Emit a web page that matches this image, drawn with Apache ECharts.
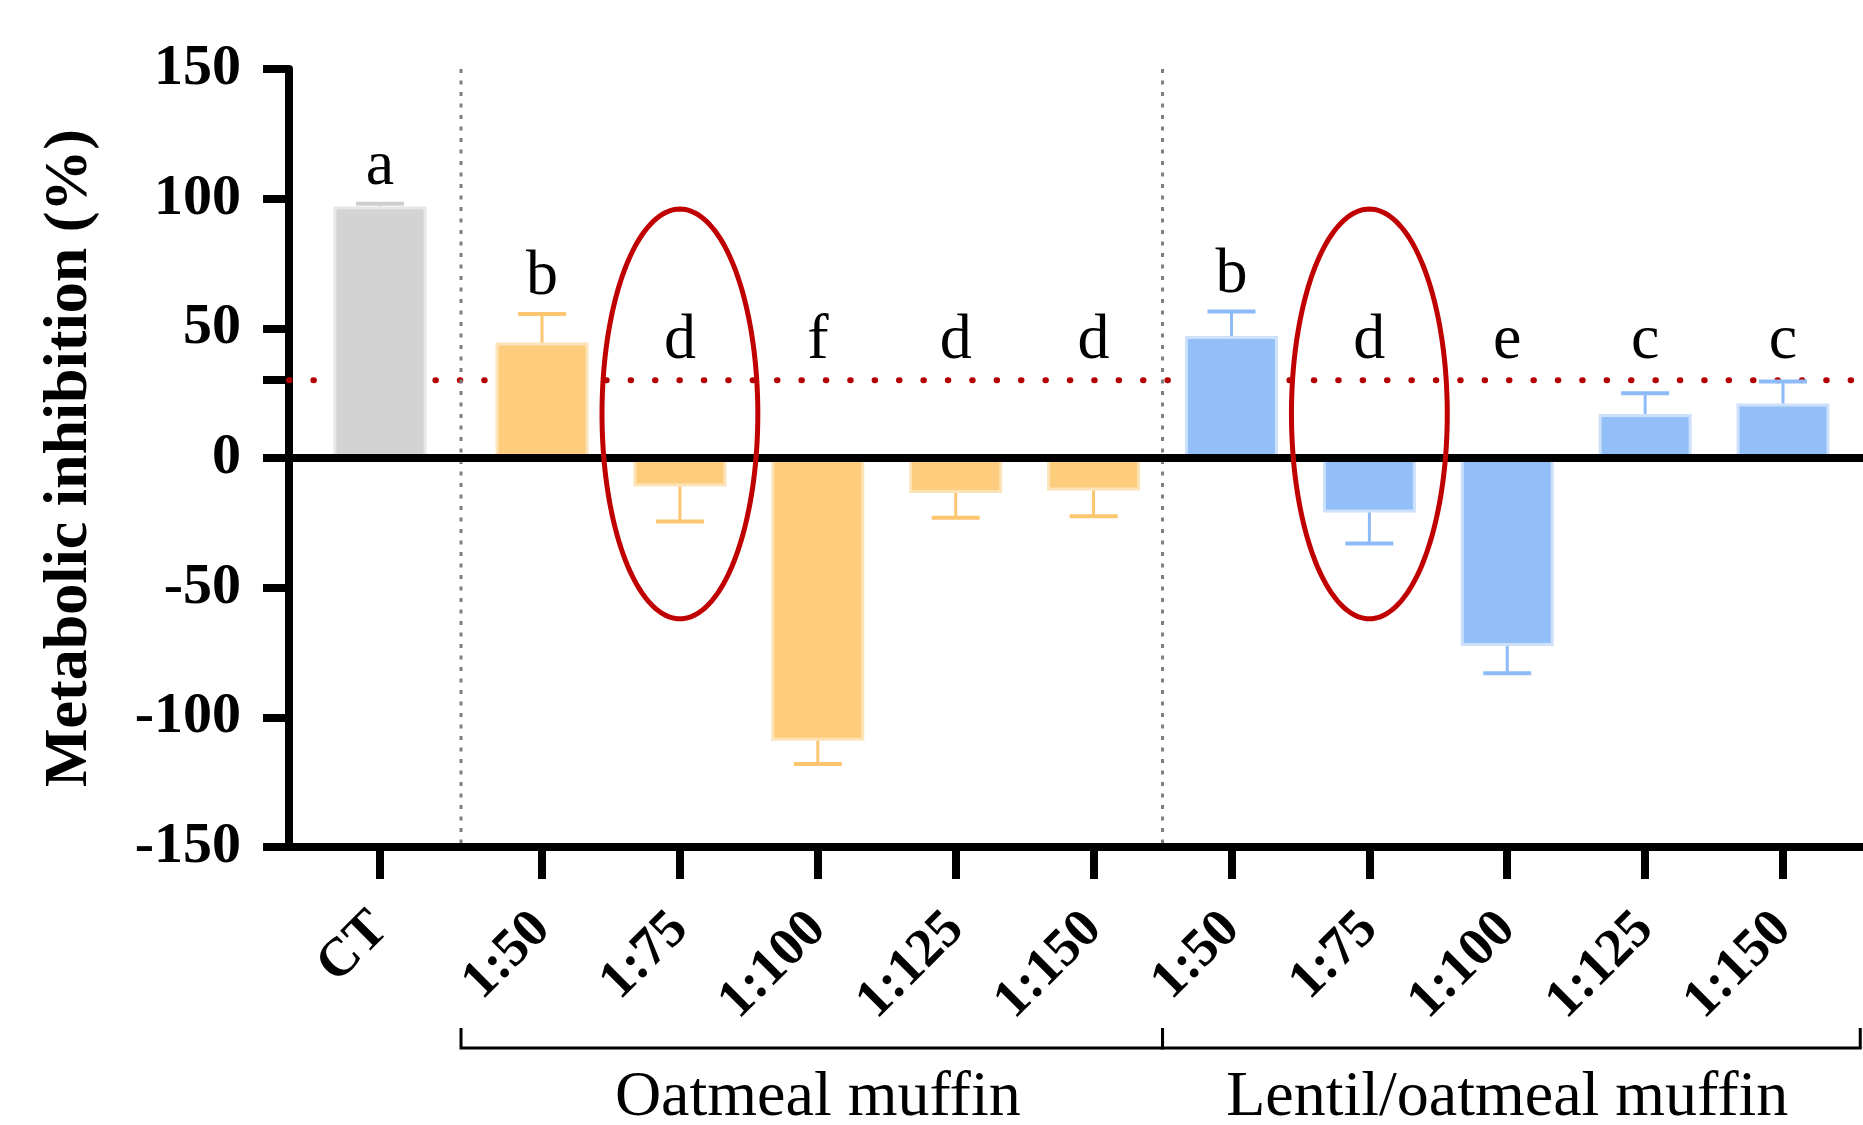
<!DOCTYPE html>
<html><head><meta charset="utf-8">
<script src="https://cdn.jsdelivr.net/npm/echarts@6/dist/echarts.min.js"></script>
<style>html,body{margin:0;padding:0;background:#fff}#c{width:1863px;height:1125px}</style>
</head><body><div id="c"></div>
<script>
// ---------------- data ----------------
const categories = ['CT','1:50','1:75','1:100','1:125','1:150','1:50','1:75','1:100','1:125','1:150'];
const groupOf    = [0, 1, 1, 1, 1, 1, 2, 2, 2, 2, 2];
const groupNames = ['Oatmeal muffin', 'Lentil/oatmeal muffin'];
const values     = [97, 44.5, -11, -109, -13.5, -12.5, 47, -21, -72.5, 17, 21];
const errors     = [1, 11, 13.5, 9, 9.5, 10, 9.5, 12, 10.5, 8, 8.5];
const letters    = ['a','b','d','f','d','d','b','d','e','c','c'];
const yTicks     = [-150, -100, -50, 0, 50, 100, 150];
const threshold  = 30;
const highlighted = [2, 7];

// ---------------- layout / style ----------------
const FONT = "'Times New Roman','Liberation Serif',serif";
const CT_GAP = 0.175;                       // extra gap after control
const xs = categories.map((c, i) => i === 0 ? -CT_GAP : i);
const X_MIN = -0.835, X_MAX = 10.58;
const fills   = ['#d3d3d3', '#fdcc7c', '#93bff8'];
const borders = ['#e6e6e6', '#fde3b8', '#cde1fb'];
const whisk   = ['#cfcfcf', '#fcc56f', '#8dbbf7'];

function labelFor(v) {
  const i = xs.findIndex(x => Math.abs(x - v) < 1e-6);
  return i >= 0 ? categories[i] : '';
}

const chart = echarts.init(document.getElementById('c'), null, {renderer: 'canvas'});

const barData = values.map((v, i) => ({
  value: [xs[i], v],
  itemStyle: {color: fills[groupOf[i]], borderColor: borders[groupOf[i]], borderWidth: 3}
}));
const errData = values.map((v, i) => [xs[i], v, errors[i], groupOf[i]]);
const letterData = values.map((v, i) => [xs[i], Math.max((v > 0 ? v + errors[i] : 0) + 8, 39), i]);
const groupSpans = groupNames.map((g, gi) => {
  const idx = groupOf.map((gg, i) => gg === gi + 1 ? i : -1).filter(i => i >= 0);
  const first = idx[0], last = idx[idx.length - 1];
  const start = (xs[first - 1] + xs[first]) / 2;
  const end = last + 1 < xs.length ? (xs[last] + xs[last + 1]) / 2 : X_MAX - 0.02;
  const center = idx.reduce((s, i) => s + xs[i], 0) / idx.length;
  return [start, end, center, gi];
});
const separators = groupSpans.map(s => [s[0]]);

const option = {
  animation: false,
  backgroundColor: '#fff',
  grid: {left: 289, right: 0, top: 69, bottom: 278, containLabel: false},
  xAxis: {
    type: 'value', min: X_MIN, max: X_MAX,
    axisLine: {onZero: false, lineStyle: {color: '#000', width: 8}},
    axisTick: {show: true, customValues: xs, length: 32, lineStyle: {color: '#000', width: 8}},
    axisLabel: {customValues: xs, formatter: labelFor, rotate: 45, margin: 74,
      fontFamily: FONT, fontWeight: 'bold', fontSize: 54, color: '#000'},
    splitLine: {show: false}
  },
  yAxis: {
    type: 'value', min: -150, max: 150, interval: 50,
    axisLine: {show: true, onZero: false, lineStyle: {color: '#000', width: 8}},
    axisTick: {show: true, customValues: yTicks.concat([threshold]), length: 26, lineStyle: {color: '#000', width: 8}},
    axisLabel: {customValues: yTicks, margin: 48, fontFamily: FONT, fontWeight: 'bold', fontSize: 58, color: '#000'},
    splitLine: {show: false},
    name: 'Metabolic inhibition (%)', nameLocation: 'middle', nameGap: 188,
    nameTextStyle: {fontFamily: FONT, fontWeight: 'bold', fontSize: 62, color: '#000'}
  },
  series: [
    { // threshold dotted line + separators
      type: 'custom', z: 1, clip: false, silent: true,
      data: [[0]],
      renderItem(params, api) {
        const a = api.coord([X_MIN, threshold]), b = api.coord([X_MAX, threshold]);
        const children = [{type: 'line', shape: {x1: a[0], y1: a[1], x2: b[0], y2: b[1]},
          style: {stroke: '#b40000', lineWidth: 6, lineDash: [0.5, 23.9], lineCap: 'round'}}];
        separators.forEach(s => {
          const t = api.coord([s[0], 150]), u = api.coord([s[0], -150]);
          children.push({type: 'line', shape: {x1: t[0], y1: t[1], x2: u[0], y2: u[1] - 4},
            style: {stroke: '#808080', lineWidth: 3, lineDash: [4, 7.5]}});
        });
        return {type: 'group', children};
      }
    },
    {
      type: 'bar', z: 2, barWidth: 93, data: barData, silent: true
    },
    { // error bars
      type: 'custom', z: 3, clip: false, silent: true,
      data: errData,
      renderItem(params, api) {
        const x = api.value(0), v = api.value(1), e = api.value(2), g = api.value(3);
        const end = v >= 0 ? v + e : v - e;
        const p0 = api.coord([x, v]), p1 = api.coord([x, end]);
        const col = whisk[g];
        return {type: 'group', children: [
          {type: 'line', shape: {x1: p0[0], y1: p0[1], x2: p1[0], y2: p1[1]}, style: {stroke: col, lineWidth: 3}},
          {type: 'line', shape: {x1: p1[0] - 24, y1: p1[1], x2: p1[0] + 24, y2: p1[1]}, style: {stroke: col, lineWidth: 4}}
        ]};
      }
    },
    { // zero line
      type: 'custom', z: 4, clip: false, silent: true,
      data: [[0]],
      renderItem(params, api) {
        const a = api.coord([X_MIN, 0]), b = api.coord([X_MAX, 0]);
        return {type: 'line', shape: {x1: a[0], y1: a[1], x2: b[0], y2: b[1]}, style: {stroke: '#000', lineWidth: 8}};
      }
    },
    { // significance letters
      type: 'custom', z: 5, clip: false, silent: true,
      data: letterData,
      renderItem(params, api) {
        const p = api.coord([api.value(0), api.value(1)]);
        return {type: 'text', x: p[0], y: p[1] - 16,
          style: {text: letters[api.value(2)], fontFamily: FONT, fontSize: 64, fill: '#000', align: 'center', verticalAlign: 'middle'}};
      }
    },
    { // group brackets + labels
      type: 'custom', z: 5, clip: false, silent: true,
      data: groupSpans,
      renderItem(params, api) {
        const s = api.coord([api.value(0), -150]), e = api.coord([api.value(1), -150]);
        const c = api.coord([api.value(2), -150]);
        const y = s[1] + 201;
        return {type: 'group', children: [
          {type: 'polyline', shape: {points: [[s[0], y - 20], [s[0], y], [e[0], y], [e[0], y - 20]]},
            style: {stroke: '#000', lineWidth: 3, fill: null}},
          {type: 'text', x: c[0], y: s[1] + 251,
            style: {text: groupNames[api.value(3)], fontFamily: FONT, fontSize: 64, fill: '#000', align: 'center', verticalAlign: 'middle'}}
        ]};
      }
    },
    { // red ellipses around highlighted bars
      type: 'custom', z: 6, clip: false, silent: true,
      data: highlighted.map(i => [xs[i], 17]),
      renderItem(params, api) {
        const c = api.coord([api.value(0), api.value(1)]);
        const sz = api.size([0.565, 79]);
        const rx = sz[0], ry = sz[1];
        const pts = [];
        for (let k = 0; k < 180; k++) {
          const t = k / 180 * Math.PI * 2;
          pts.push([c[0] + rx * Math.cos(t), c[1] + ry * Math.sin(t)]);
        }
        return {type: 'polygon', shape: {points: pts}, style: {stroke: '#c00000', lineWidth: 5, fill: null}};
      }
    }
  ]
};
chart.setOption(option);
</script>
</body></html>
